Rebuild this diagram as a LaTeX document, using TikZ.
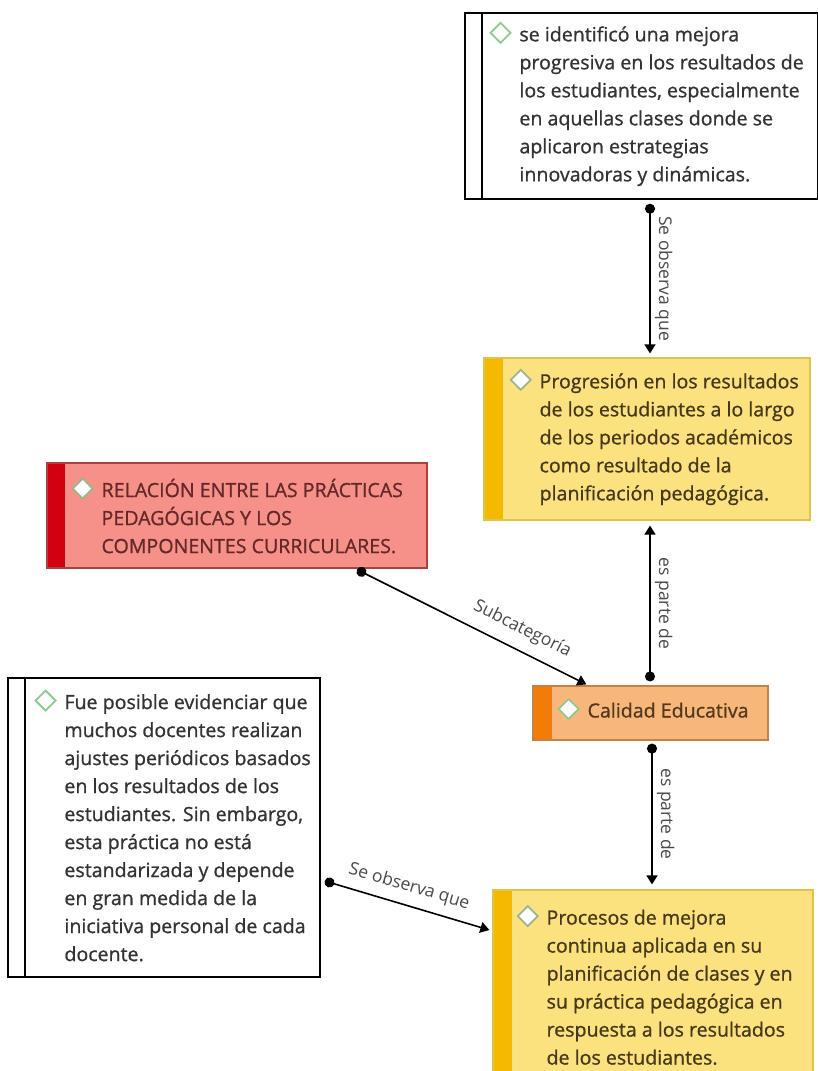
\documentclass[tikz,border=0pt]{standalone}
\usepackage{fontspec}
\setmainfont{Open Sans}
\newfontfamily\boxfont{Open Sans}[FakeBold=0.9]
\usetikzlibrary{arrows.meta,calc}
\definecolor{dgreen}{HTML}{8CCB8C}
\definecolor{dgray}{HTML}{9DB58E}
\definecolor{yfill}{HTML}{FCE17F}
\definecolor{ystrip}{HTML}{F5B900}
\definecolor{yborder}{HTML}{E3C24A}
\definecolor{rfill}{HTML}{F6918A}
\definecolor{rstrip}{HTML}{D3000F}
\definecolor{rborder}{HTML}{B0403A}
\definecolor{ofill}{HTML}{F7B77A}
\definecolor{ostrip}{HTML}{F17C0A}
\definecolor{oborder}{HTML}{C98040}
\definecolor{wtext}{HTML}{333333}
\definecolor{ytext}{HTML}{45391A}
\definecolor{rtext}{HTML}{642828}
\definecolor{otext}{HTML}{55371C}
\definecolor{ltext}{HTML}{4A4A4A}
\newcommand{\dmd}[1]{\llap{\tikz[baseline=0pt]\draw[draw=#1,fill=white,line width=1.8pt,line join=miter] (0pt,8.5pt)--(10pt,18.5pt)--(20pt,8.5pt)--(10pt,-1.5pt)--cycle;\hspace{8pt}}}
\begin{document}
\begin{tikzpicture}[x=1pt,y=-1pt,
  wbox/.style={rectangle, draw=black, line width=1.5pt, fill=white, inner sep=0pt,
    path picture={\draw[line width=1.5pt] ([xshift=17pt]path picture bounding box.north west) -- ([xshift=17pt]path picture bounding box.south west);}},
  ybox/.style={rectangle, draw=yborder, line width=1.2pt, fill=yfill, inner sep=0pt,
    path picture={\fill[ystrip] (path picture bounding box.north west) rectangle ([xshift=19pt]path picture bounding box.south west);}},
  rbox/.style={rectangle, draw=rborder, line width=1.2pt, fill=rfill, inner sep=0pt,
    path picture={\fill[rstrip] (path picture bounding box.north west) rectangle ([xshift=18pt]path picture bounding box.south west);}},
  obox/.style={rectangle, draw=oborder, line width=1.2pt, fill=ofill, inner sep=0pt,
    path picture={\fill[ostrip] (path picture bounding box.north west) rectangle ([xshift=19pt]path picture bounding box.south west);}},
  txt/.style={anchor=west, inner sep=0pt, align=left, font=\boxfont\fontsize{19.6}{28}\selectfont},
  conn/.style={line width=1.6pt, black, {Circle[length=10pt]}-{Triangle[length=9pt,width=11pt]}},
  lbl/.style={font=\fontsize{17.5}{20}\selectfont, text=ltext, inner sep=4pt}
]
\useasboundingbox (0,0) rectangle (818,1071);
\fill[white] (0,0) rectangle (818,1071);

% boxes
\node[wbox, minimum width=353pt, minimum height=186pt] (T) at (641.5,106) {};
\node[ybox, minimum width=326pt, minimum height=162pt] (P1) at (647,439) {};
\node[rbox, minimum width=380pt, minimum height=105pt] (R) at (237,515.5) {};
\node[obox, minimum width=235pt, minimum height=54pt] (C) at (650.5,713) {};
\node[wbox, minimum width=312pt, minimum height=299pt] (L) at (164,827.5) {};
\node[ybox, minimum width=320pt, minimum height=190pt] (P2) at (653,985) {};

% texts
\node[txt, text=wtext] (Tt) at ([xshift=55pt,yshift=2pt]T.west) {\dmd{dgreen}se identificó una mejora\\progresiva en los resultados de\\los estudiantes, especialmente\\en aquellas clases donde se\\aplicaron estrategias\\innovadoras y dinámicas.};
\node[txt, text=ytext] (P1t) at ([xshift=56pt,yshift=2pt]P1.west) {\dmd{dgray}Progresión en los resultados\\de los estudiantes a lo largo\\de los periodos académicos\\como resultado de la\\planificación pedagógica.};
\node[txt, text=rtext] (Rt) at ([xshift=55pt,yshift=0pt]R.west) {\dmd{dgray}RELACIÓN ENTRE LAS PRÁCTICAS\\PEDAGÓGICAS Y LOS\\COMPONENTES CURRICULARES.};
\node[txt, text=otext] (Ct) at ([xshift=55pt,yshift=4pt]C.west) {\dmd{dgreen}Calidad Educativa};
\node[txt, text=wtext] (Lt) at ([xshift=57pt,yshift=2pt]L.west) {\dmd{dgreen}Fue posible evidenciar que\\muchos docentes realizan\\ajustes periódicos basados\\en los resultados de los\\estudiantes. Sin embargo,\\esta práctica no está\\estandarizada y depende\\en gran medida de la\\iniciativa personal de cada\\docente.};
\node[txt, text=ytext] (P2t) at ([xshift=54pt,yshift=0pt]P2.west) {\dmd{dgray}Procesos de mejora\\continua aplicada en su\\planificación de clases y en\\su práctica pedagógica en\\respuesta a los resultados\\de los estudiantes.};

% connectors
\coordinate (cx) at (650,0);
\coordinate (cy) at (652,0);
\draw[conn] ([yshift=-4pt]T.south -| cx) -- node[lbl, midway, rotate=-90, anchor=south] {Se observa que} ([yshift=4pt]P1.north -| cx);
\draw[conn] ([yshift=4pt]C.north -| cx) -- node[lbl, midway, rotate=-90, anchor=south] {es parte de} ([yshift=-5pt]P1.south -| cx);
\draw[conn] ([xshift=120pt,yshift=-1pt]R.south) -- node[lbl, pos=0.68, sloped, above=7pt] {Subcategoría} ([xshift=54pt,yshift=1pt]C.north west);
\draw[conn] ([yshift=-3pt]C.south -| cy) -- node[lbl, midway, rotate=-90, anchor=south] {es parte de} ([yshift=5pt]P2.north -| cy);
\draw[conn] ([xshift=4pt,yshift=-53.5pt]L.east) -- node[lbl, pos=0.48, sloped, above=5pt] {Se observa que} ([xshift=-3pt,yshift=55pt]P2.west);
\end{tikzpicture}
\end{document}
